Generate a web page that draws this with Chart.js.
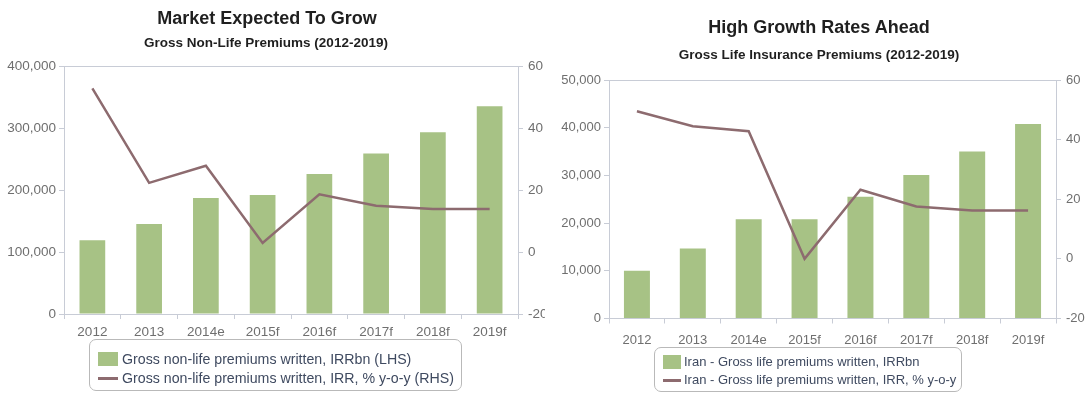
<!DOCTYPE html>
<html><head><meta charset="utf-8">
<script src="https://cdn.jsdelivr.net/npm/chart.js@4.4.1/dist/chart.umd.min.js"></script>
<style>
html,body{margin:0;padding:0;background:#fff;}
body{width:1091px;height:397px;overflow:hidden;position:relative;font-family:"Liberation Sans",Arial,Helvetica,sans-serif;}
.wrap{position:absolute;top:0;}
.t{position:absolute;text-align:center;font-weight:bold;color:#1f1f1f;white-space:nowrap;}
.legend{position:absolute;border:1.5px solid #b9b9b9;border-radius:7px;box-sizing:border-box;color:#3f4a60;white-space:nowrap;}
.item{position:absolute;left:0;right:0;height:18px;}
.sw{position:absolute;}
.lt{position:absolute;top:0;line-height:18px;}
</style>
</head><body>
<div class="wrap" style="left:0;width:545px;height:397px;"><canvas id="c1" width="545" height="397"></canvas></div>
<div class="wrap" style="left:545px;width:546px;height:397px;"><canvas id="c2" width="546" height="397"></canvas></div>

<div class="t" style="left:117px;width:300px;top:7px;font-size:18px;line-height:22px;">Market Expected To Grow</div>
<div class="t" style="left:116px;width:300px;top:35px;font-size:13.5px;line-height:16px;">Gross Non-Life Premiums (2012-2019)</div>
<div class="t" style="left:669px;width:300px;top:16px;font-size:18px;line-height:22px;">High Growth Rates Ahead</div>
<div class="t" style="left:669px;width:300px;top:47px;font-size:13.5px;line-height:16px;">Gross Life Insurance Premiums (2012-2019)</div>

<div id="lg1" class="legend" style="left:89px;top:339px;width:373px;height:52px;font-size:14.2px;"></div>
<div id="lg2" class="legend" style="left:654px;top:347px;width:308px;height:45px;font-size:13px;"></div>

<script>
// ---- data ----
const categories = ['2012', '2013', '2014e', '2015f', '2016f', '2017f', '2018f', '2019f'];

const nonLifeLabelBar  = 'Gross non-life premiums written, IRRbn (LHS)';
const nonLifeLabelLine = 'Gross non-life premiums written, IRR, % y-o-y (RHS)';
const nonLifePremiums  = [119000, 145000, 187000, 192000, 226000, 259000, 293000, 335000];
const nonLifeGrowth    = [52.8, 22.3, 27.8, 2.9, 18.6, 14.9, 13.9, 13.9];

const lifeLabelBar  = 'Iran - Gross life premiums written, IRRbn';
const lifeLabelLine = 'Iran - Gross life premiums written, IRR, % y-o-y';
const lifePremiums  = [10000, 14700, 20800, 20800, 25500, 30100, 35000, 40800];
const lifeGrowth    = [49.5, 44.5, 42.8, 0, 23.2, 17.6, 16.2, 16.2];

const nonLifeLeftTicks  = [0, 100000, 200000, 300000, 400000];
const lifeLeftTicks     = [0, 10000, 20000, 30000, 40000, 50000];
const growthTicks       = [-20, 0, 20, 40, 60];

// ---- styles ----
const BAR = '#a7c285';
const LINE = '#8d6b6f';
const AXIS = '#c8ccd6';
const TICK = '#6f6f6f';
Chart.defaults.font.family = '"Liberation Sans", Arial, Helvetica, sans-serif';

function fmt(v){ return Number(v).toLocaleString('en-US'); }

function build(id, cfg){
  const leftMax = cfg.leftTicks[cfg.leftTicks.length-1];
  return new Chart(document.getElementById(id), {
    data: {
      labels: categories,
      datasets: [
        { type:'line', label: cfg.lineLabel, data: cfg.line, yAxisID:'y1', borderColor: LINE,
          backgroundColor: LINE, borderWidth: 2.5, pointRadius: 0, tension: 0, order: 0 },
        { type:'bar', label: cfg.barLabel, data: cfg.bars, yAxisID:'y', backgroundColor: BAR,
          borderWidth: 0, categoryPercentage: 1, barPercentage: cfg.barPct, order: 1 }
      ]
    },
    options: {
      responsive: false, animation: false, events: [],
      layout: { padding: { top: cfg.top, left: 0, right: 0, bottom: 0 } },
      plugins: { legend: { display: false }, title: { display: false }, tooltip: { enabled: false } },
      scales: {
        x: {
          type: 'category',
          grid: { offset: true, drawOnChartArea: false, drawTicks: true, tickLength: 5, tickColor: AXIS },
          border: { display: true, color: AXIS, width: 1 },
          ticks: { color: TICK, font: { size: cfg.xFont }, padding: cfg.xPad, maxRotation: 0, autoSkip: false },
          afterFit: s => { s.height = cfg.xHeight; }
        },
        y: {
          position: 'left', min: 0, max: leftMax,
          afterBuildTicks: s => { s.ticks = cfg.leftTicks.map(v => ({ value: v })); },
          grid: { drawOnChartArea: true, tickLength: 5, tickColor: AXIS,
                  color: c => (c.tick && c.tick.value === leftMax) ? AXIS : 'rgba(0,0,0,0)' },
          border: { display: true, color: AXIS, width: 1 },
          ticks: { color: TICK, font: { size: cfg.yFont }, padding: 3, callback: v => fmt(v) },
          afterFit: s => { s.width = cfg.leftW; }
        },
        y1: {
          position: 'right', min: -20, max: 60,
          afterBuildTicks: s => { s.ticks = growthTicks.map(v => ({ value: v })); },
          grid: { drawOnChartArea: false, tickLength: 5, tickColor: AXIS },
          border: { display: true, color: AXIS, width: 1 },
          ticks: { color: TICK, font: { size: cfg.yFont }, padding: 5 },
          afterFit: s => { s.width = cfg.rightW; }
        }
      }
    }
  });
}

build('c1', { bars: nonLifePremiums, line: nonLifeGrowth, barLabel: nonLifeLabelBar, lineLabel: nonLifeLabelLine,
  leftTicks: nonLifeLeftTicks, top: 66, leftW: 64, rightW: 27, xHeight: 83, xFont: 13.5, yFont: 13.5, xPad: 5, barPct: 0.453 });
build('c2', { bars: lifePremiums, line: lifeGrowth, barLabel: lifeLabelBar, lineLabel: lifeLabelLine,
  leftTicks: lifeLeftTicks, top: 80, leftW: 64, rightW: 35, xHeight: 78.5, xFont: 13, yFont: 13, xPad: 9, barPct: 0.465 });

function legend(id, barLabel, lineLabel, rows, sx, sw, tx){
  const el = document.getElementById(id);
  el.innerHTML =
    '<div class="item" style="top:'+rows[0]+'px"><div class="sw" style="left:'+sx+'px;top:2px;width:'+sw+'px;height:14px;background:'+BAR+'"></div>' +
    '<div class="lt" style="left:'+tx+'px">'+barLabel+'</div></div>' +
    '<div class="item" style="top:'+rows[1]+'px"><div class="sw" style="left:'+sx+'px;top:8px;width:'+sw+'px;height:2.5px;background:'+LINE+'"></div>' +
    '<div class="lt" style="left:'+tx+'px">'+lineLabel+'</div></div>';
}
legend('lg1', nonLifeLabelBar, nonLifeLabelLine, [10, 29], 8, 20, 32);
legend('lg2', lifeLabelBar, lifeLabelLine, [5, 23], 8, 18, 29);
</script>
</body></html>
